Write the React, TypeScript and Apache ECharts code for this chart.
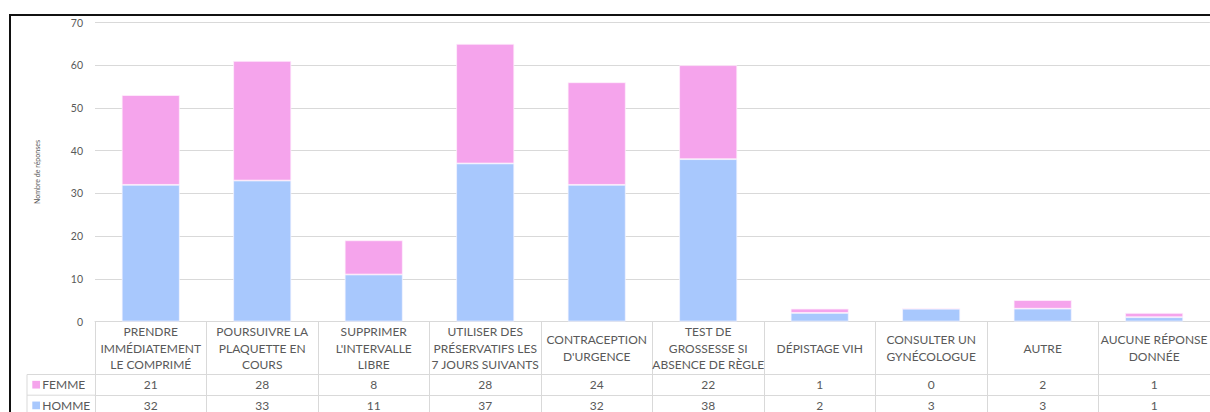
import React, { useEffect, useRef } from 'react';
import * as echarts from 'echarts';

const categories = [
  'PRENDRE\nIMMÉDIATEMENT\nLE COMPRIMÉ',
  'POURSUIVRE LA\nPLAQUETTE EN\nCOURS',
  "SUPPRIMER\nL'INTERVALLE\nLIBRE",
  'UTILISER DES\nPRÉSERVATIFS LES\n7 JOURS SUIVANTS',
  "CONTRACEPTION\nD'URGENCE",
  'TEST DE\nGROSSESSE SI\nABSENCE DE RÈGLE',
  'DÉPISTAGE VIH',
  'CONSULTER UN\nGYNÉCOLOGUE',
  'AUTRE',
  'AUCUNE RÉPONSE\nDONNÉE',
];
const femme = [21, 28, 8, 28, 24, 22, 1, 0, 2, 1];
const homme = [32, 33, 11, 37, 32, 38, 2, 3, 3, 1];
const seriesNames = ['FEMME', 'HOMME'];
const yMin = 0;
const yMax = 70;
const yInterval = 10;
const yTitle = 'Nombre de réponses';

const PINK = '#F5A4EC';
const BLUE = '#A8C8FD';
const TEXT = '#595959';
const LINE = '#D9D9D9';
const FONT = 'Lato, "Noto Sans", sans-serif';

export default function App() {
  const ref = useRef<HTMLDivElement>(null);
  useEffect(() => {
    const chart = echarts.init(ref.current!, null, { renderer: 'svg' });
    const gridLeft = 95;
    const gridTop = 22.5;
    const gridHeight = 299;
    const axisY = gridTop + gridHeight;
    const headerH = 53;
    const rowH = 20.7;
    const tableLeft = 27;

    const rowAxis = (data: number[], offset: number) => ({
      type: 'category',
      data: data.map(String),
      position: 'bottom',
      offset,
      axisLine: { show: true, lineStyle: { color: LINE, width: 1 } },
      axisTick: { show: false },
      axisLabel: {
        interval: 0,
        color: TEXT,
        fontFamily: FONT,
        fontSize: 12,
        verticalAlign: 'middle',
        margin: rowH / 2,
      },
    });

    chart.setOption({
      animation: false,
      textStyle: { fontFamily: FONT },
      grid: { left: gridLeft, top: gridTop, width: 1124.5, height: gridHeight },
      xAxis: [
        {
          type: 'category',
          data: categories,
          position: 'bottom',
          axisLine: { show: true, lineStyle: { color: LINE, width: 1 } },
          axisTick: { show: true, alignWithLabel: false, length: 120, lineStyle: { color: LINE, width: 1 } },
          axisLabel: {
            interval: 0,
            color: TEXT,
            fontFamily: FONT,
            fontSize: 12,
            lineHeight: 16.5,
            verticalAlign: 'middle',
            align: 'center',
            margin: headerH / 2,
          },
        },
        rowAxis(femme, headerH),
        rowAxis(homme, headerH + rowH),
      ],
      yAxis: {
        type: 'value',
        min: yMin,
        max: yMax,
        interval: yInterval,
        name: yTitle,
        nameLocation: 'middle',
        nameGap: 55,
        nameTextStyle: { fontSize: 7, color: TEXT, fontFamily: FONT },
        axisLine: { show: false },
        axisTick: { show: false },
        axisLabel: { color: TEXT, fontFamily: FONT, fontSize: 10.5, margin: 12 },
        splitLine: { lineStyle: { color: LINE, width: 1 } },
      },
      series: [
        {
          name: seriesNames[1],
          type: 'bar',
          stack: 'total',
          xAxisIndex: 0,
          data: homme,
          itemStyle: { color: BLUE, borderColor: '#F4F4FF', borderWidth: 0.75 },
          barCategoryGap: '48%',
        },
        {
          name: seriesNames[0],
          type: 'bar',
          stack: 'total',
          xAxisIndex: 0,
          data: femme,
          itemStyle: { color: PINK, borderColor: '#FFF0FC', borderWidth: 0.75 },
          barCategoryGap: '48%',
        },
      ],
      graphic: [
        {
          type: 'rect',
          shape: { x: 10, y: 15, width: 1400, height: 600 },
          style: { fill: 'none', stroke: '#111', lineWidth: 2 },
          silent: true,
        },
        {
          type: 'line',
          shape: { x1: tableLeft, y1: axisY + headerH, x2: gridLeft, y2: axisY + headerH },
          style: { stroke: LINE, lineWidth: 1 },
        },
        {
          type: 'line',
          shape: { x1: tableLeft, y1: axisY + headerH + rowH, x2: gridLeft, y2: axisY + headerH + rowH },
          style: { stroke: LINE, lineWidth: 1 },
        },
        {
          type: 'line',
          shape: { x1: tableLeft, y1: axisY + headerH, x2: tableLeft, y2: 440 },
          style: { stroke: LINE, lineWidth: 1 },
        },
        {
          type: 'rect',
          shape: { x: 32.3, y: axisY + headerH + rowH / 2 - 4, width: 7.7, height: 7.7 },
          style: { fill: PINK },
        },
        {
          type: 'text',
          x: 42.3,
          y: axisY + headerH + rowH / 2,
          style: { text: seriesNames[0], fill: TEXT, font: `12px ${FONT}`, verticalAlign: 'middle' },
        },
        {
          type: 'rect',
          shape: { x: 32.3, y: axisY + headerH + rowH * 1.5 - 4, width: 7.7, height: 7.7 },
          style: { fill: BLUE },
        },
        {
          type: 'text',
          x: 42.3,
          y: axisY + headerH + rowH * 1.5,
          style: { text: seriesNames[1], fill: TEXT, font: `12px ${FONT}`, verticalAlign: 'middle' },
        },
      ],
    });
    return () => chart.dispose();
  }, []);
  return (
    <div
      ref={ref}
      style={{ position: 'fixed', left: 0, top: 0, width: 1210, height: 412, background: '#fff' }}
    />
  );
}
